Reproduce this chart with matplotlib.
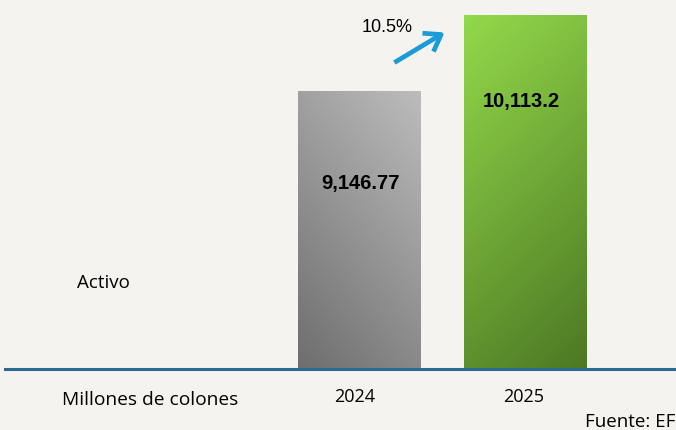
import matplotlib.pyplot as plt
import numpy as np
from matplotlib.colors import LinearSegmentedColormap
from matplotlib.patches import FancyArrowPatch

# data
years = ["2024", "2025"]
activo = [9146.77, 10113.2]
value_labels = ["9,146.77", "10,113.2"]
growth_label = "10.5%"

W, H = 676, 431


def fx(px):
    return px / W


def fy(py):
    return 1 - py / H


fig = plt.figure(figsize=(6.76, 4.31), dpi=100)
fig.patch.set_facecolor("#f4f3f0")

# axes fills the width; baseline at y=370px, top of tallest bar at y=16px
ax = fig.add_axes([0, fy(370), 1, (370 - 16) / H])
ax.set_facecolor("none")
xlim = (-2.166, 1.907)
ylim = (5612, 10113.2)

x = np.arange(len(years))
bars = ax.bar(x, activo, width=0.741, bottom=0, color="none", edgecolor="none")

# gradient fills
gray = LinearSegmentedColormap.from_list("g", ["#6e6e6e", "#bcbcbc"])
green = LinearSegmentedColormap.from_list("gr", ["#4c7823", "#93d94b"])
gx, gy = np.meshgrid(np.linspace(0, 1, 64), np.linspace(0, 1, 128))
grads = [0.35 * gx + 0.65 * gy, 0.75 * gy + 0.25 * (1 - gx)]
for bar, cmap, g in zip(bars, [gray, green], grads):
    x0, x1 = bar.get_x(), bar.get_x() + bar.get_width()
    im = ax.imshow(g, cmap=cmap, origin="lower", aspect="auto",
                   extent=[x0, x1, ylim[0], bar.get_height()], zorder=2)
    im.set_clip_path(bar)
ax.set_xlim(*xlim)
ax.set_ylim(*ylim)

# value labels inside bars
fig.text(fx(361), fy(183), value_labels[0], ha="center", va="center",
         fontsize=14.5, fontweight="bold", family="Liberation Sans", zorder=3)
fig.text(fx(521), fy(101), value_labels[1], ha="center", va="center",
         fontsize=14.5, fontweight="bold", family="Liberation Sans", zorder=3)

# baseline
for s in ax.spines.values():
    s.set_visible(False)
ax.axhline(ylim[0], xmin=5 / W, xmax=1, color="#2a6a8f", lw=2.2, zorder=4,
           clip_on=False)
ax.set_yticks([])
ax.set_xticks([])
for xi, yr in zip([355, 524], years):
    fig.text(fx(xi), fy(397), yr, ha="center", va="center", fontsize=13,
             family="Open Sans")

# growth arrow
fig.patches.append(FancyArrowPatch(
    (fx(392), fy(65)), (fx(447), fy(32)),
    transform=fig.transFigure, arrowstyle="->,head_length=5,head_width=3.5",
    mutation_scale=2.2, color="#1b9bd7", lw=3.4, capstyle="butt"))
fig.text(fx(387), fy(28), growth_label, ha="center", va="center",
         fontsize=13, family="Liberation Sans")

fig.text(fx(77), fy(283), "Activo", ha="left", va="center",
         fontsize=13.5, family="Open Sans")
fig.text(fx(62), fy(400), "Millones de colones", ha="left",
         va="center", fontsize=13.8, family="Open Sans")
fig.text(fx(675), fy(422), "Fuente: EF", ha="right", va="center",
         fontsize=13.5, family="Open Sans")

fig.savefig("out.png", dpi=100, facecolor=fig.get_facecolor())
